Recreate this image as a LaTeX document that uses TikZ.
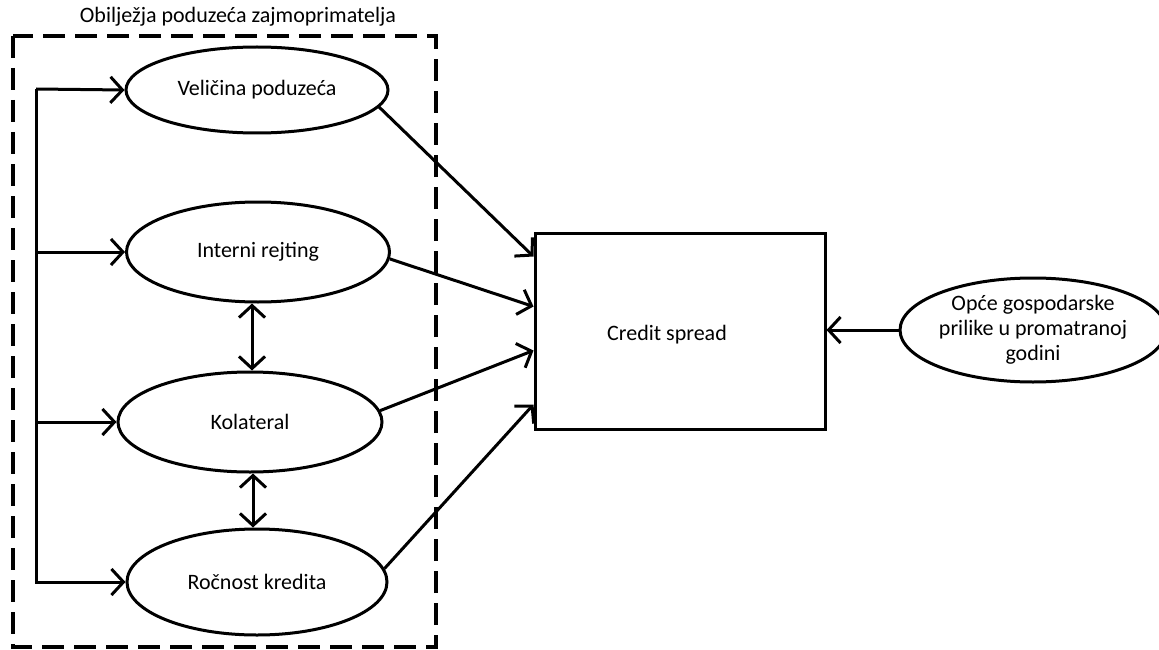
\documentclass[tikz,border=0pt]{standalone}
\usepackage{fontspec}
\setmainfont{Carlito}
\usetikzlibrary{shapes.geometric}
\usetikzlibrary{arrows.meta}

\begin{document}
\begin{tikzpicture}[x=1pt,y=-1pt,
  oval/.style={ellipse, draw, line width=3pt, inner sep=0pt},
  arr/.style={line width=3pt, -{Straight Barb[length=12pt,width=26pt]}},
  arrs/.style={line width=3pt, {Straight Barb[length=12pt,width=26pt]}-{Straight Barb[length=12pt,width=26pt]}},
  font=\fontsize{22}{25}\selectfont]
  \useasboundingbox (0,0) rectangle (1159,650);

  \draw[line width=3.5pt, dash pattern=on 22pt off 10pt] (13,36) rectangle (436,647);
  \node (naslov) at (238,17) {Obilježja poduzeća zajmoprimatelja};

  \node[oval, minimum width=262pt, minimum height=86pt] (velicina) at (257,90) {Veličina poduzeća};
  \node[oval, minimum width=263pt, minimum height=100pt] (rejting) at (258,252) {Interni rejting};
  \node[oval, minimum width=264pt, minimum height=100pt] (kolateral) at (250,422) {Kolateral};
  \node[oval, minimum width=260pt, minimum height=106pt] (rocnost) at (257,582) {Ročnost kredita};

  \node[draw, line width=3pt, minimum width=290pt, minimum height=196pt] (spread) at (680,331) {};
  \node (spreadtxt) at (667,335) {Credit spread};
  \node[oval, minimum width=252pt, minimum height=104pt, align=center] (prilike) at (1033,330)
    {Opće gospodarske\\prilike u promatranoj\\godini};

  % lijeva sabirnica
  \coordinate (bartop) at (36,89);
  \coordinate (barbot) at (36,584);
  \draw[line width=3pt] (bartop) -- (barbot);
  \draw[arr] (bartop) -- (velicina.west);
  \draw[arr] (bartop |- rejting.west) -- (rejting.west);
  \draw[arr] (bartop |- kolateral.west) -- (kolateral.west);
  \draw[arr] (barbot |- rocnost.west) -- (rocnost.west);

  \draw[arrs] ([xshift=-6pt]rejting.south) -- ([xshift=2pt]kolateral.north);
  \draw[arrs] ([xshift=3pt]kolateral.south) -- ([xshift=-4pt]rocnost.north);

  % prema credit spreadu
  \draw[arr] (velicina.-8) -- ([yshift=-25pt]spread.north west);
  \draw[arr] (rejting.-3) -- ([yshift=-75pt]spread.north west);
  \draw[arr] (kolateral.5) -- ([yshift=-119pt]spread.north west);
  \draw[arr] (rocnost.6) -- ([yshift=26pt]spread.south west);
  \draw[arr] (prilike.west) -- (prilike.west -| spread.east);
\end{tikzpicture}
\end{document}
